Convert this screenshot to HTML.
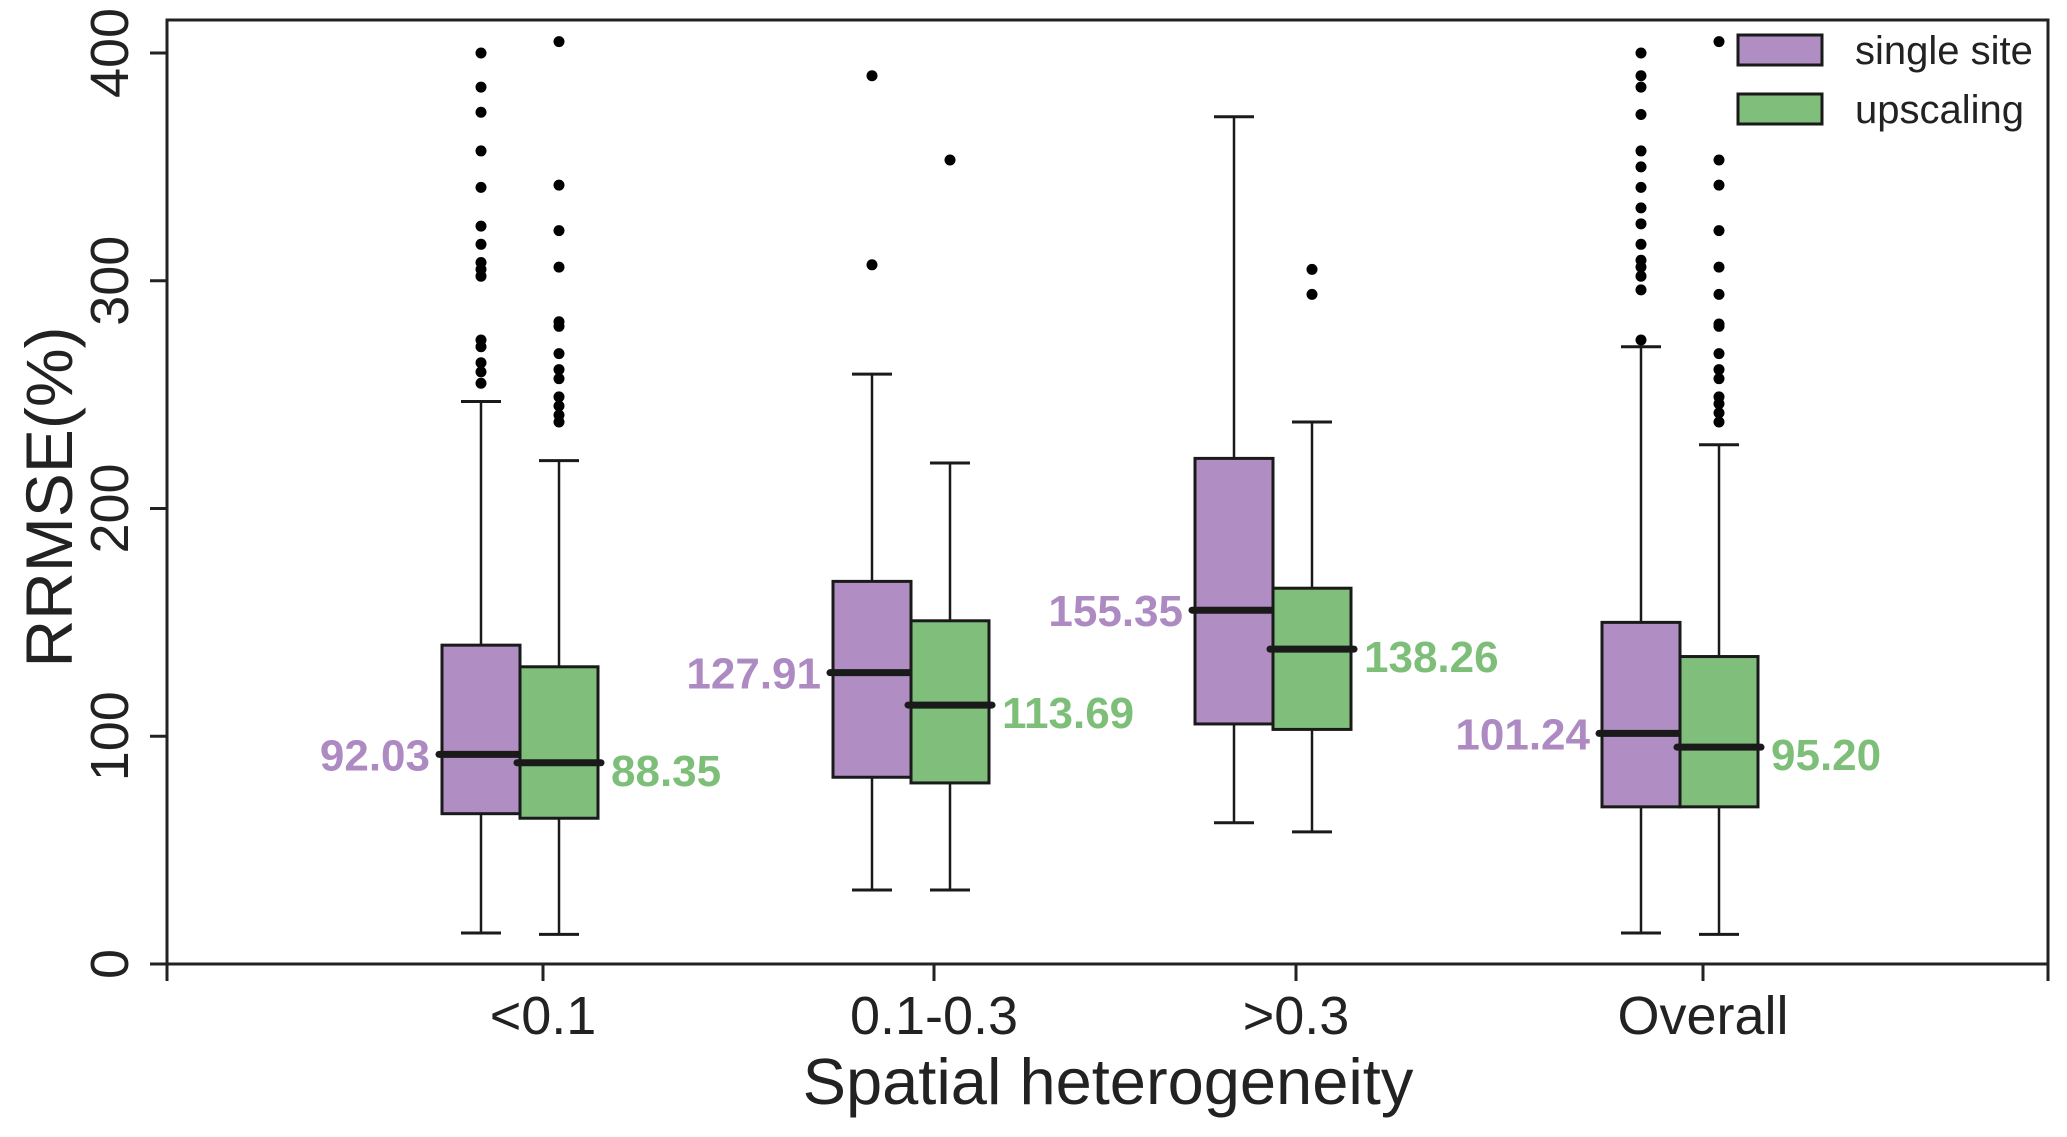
<!DOCTYPE html>
<html><head><meta charset="utf-8"><style>
html,body{margin:0;padding:0;background:#fff;}
svg{display:block;font-family:"Liberation Sans",Arial,sans-serif;}
</style></head><body>
<svg id="chart" width="2067" height="1137" viewBox="0 0 2067 1137" xmlns="http://www.w3.org/2000/svg"></svg>
<script>
const categories = ["<0.1", "0.1-0.3", ">0.3", "Overall"];
const seriesNames = ["single site", "upscaling"];
const singleLo = [13.6, 32.5, 62, 13.6];
const singleQ1 = [66, 82, 105.4, 69];
const singleMed = [92.03, 127.91, 155.35, 101.24];
const singleQ3 = [140, 168, 222, 150];
const singleHi = [247, 259, 372, 271];
const singleOut = [
  [400,385,374,357,341,324,316,308,305,302,274,271,264,260,255],
  [390,307],
  [],
  [400,390,385,373,357,350,341,332,325,316,309,306,302,296,274]
];
const upLo = [13, 32.5, 58, 13];
const upQ1 = [64, 79.5, 103, 69];
const upMed = [88.35, 113.69, 138.26, 95.20];
const upQ3 = [130.5, 150.7, 165, 135];
const upHi = [221, 220, 238, 228];
const upOut = [
  [405,342,322,306,282,280,268,261,257,249,245,241,238],
  [353],
  [305,294],
  [405,353,342,322,306,294,281,280,268,261,257,249,246,242,238]
];
const yTicks = [0, 100, 200, 300, 400];

const svg = document.getElementById('chart');
const NS = 'http://www.w3.org/2000/svg';
const L = 167, R = 2048, T = 20, B = 964;
const tickX = [543, 934, 1296, 1703];
function yS(v){ return B - v * (B - 53) / 400; }
function xCat(i){ return tickX[i]; }
const BW = 78, OFF = 23;
function mk(tag, attrs, parent){
  const e = document.createElementNS(NS, tag);
  for (const k in attrs) e.setAttribute(k, attrs[k]);
  (parent || svg).appendChild(e);
  return e;
}
const colors = ["#b08dc3", "#7fbf7b"];
const txtColors = ["#ae8ac3", "#7dbf79"];
const dark = "#1a1a1a";

const frame = mk('rect', {x:L, y:T, width:R-L, height:B-T, fill:'none', stroke:'#222', 'stroke-width':3});



yTicks.forEach(v => {
  const y = yS(v);
  const t = mk('line', {x1:L-17, x2:L, y1:y, y2:y, stroke:'#222', 'stroke-width':3});
  
  
  const lb = mk('text', {x:0, y:0, transform:`translate(128,${y}) rotate(-90)`, 'text-anchor':'middle', 'font-size':54, fill:'#222'});
  lb.textContent = v;
  
  
});
const yt = mk('text', {x:0, y:0, transform:'translate(72,497) rotate(-90)', 'text-anchor':'middle', 'font-size':66, fill:'#222'});
yt.textContent = 'RRMSE(%)';



[L, R].forEach(x => {
  const t = mk('line', {x1:x, x2:x, y1:B, y2:B+17, stroke:'#222', 'stroke-width':3});
  
  
});
categories.forEach((c, i) => {
  const x = xCat(i);
  const t = mk('line', {x1:x, x2:x, y1:B, y2:B+17, stroke:'#222', 'stroke-width':3});
  
  
  const lb = mk('text', {x:x, y:1034, 'text-anchor':'middle', 'font-size':54, fill:'#222'});
  lb.textContent = c;
  
  
});
const xt = mk('text', {x:1108, y:1104, 'text-anchor':'middle', 'font-size':65, fill:'#222'});
xt.textContent = 'Spatial heterogeneity';



const sets = [
  {lo:singleLo,q1:singleQ1,med:singleMed,q3:singleQ3,hi:singleHi,out:singleOut},
  {lo:upLo,q1:upQ1,med:upMed,q3:upQ3,hi:upHi,out:upOut}
];
sets.forEach((s, si) => {
  categories.forEach((c, i) => {
    const split = xCat(i) - OFF;
    const x0 = si === 0 ? split - BW : split;
    const cx = x0 + BW / 2;
    const lo = s.lo[i], q1 = s.q1[i], med = s.med[i], q3 = s.q3[i], hi = s.hi[i];
    const g = mk('g', {});
    
    
    mk('line', {x1:cx, x2:cx, y1:yS(hi), y2:yS(q3), stroke:dark, 'stroke-width':2.5}, g);
    mk('line', {x1:cx, x2:cx, y1:yS(q1), y2:yS(lo), stroke:dark, 'stroke-width':2.5}, g);
    mk('line', {x1:cx-20, x2:cx+20, y1:yS(hi), y2:yS(hi), stroke:dark, 'stroke-width':3}, g);
    mk('line', {x1:cx-20, x2:cx+20, y1:yS(lo), y2:yS(lo), stroke:dark, 'stroke-width':3}, g);
    mk('rect', {x:x0, y:yS(q3), width:BW, height:yS(q1)-yS(q3), fill:colors[si], stroke:dark, 'stroke-width':3}, g);
    mk('line', {x1:x0-3, x2:x0+BW+3, y1:yS(med), y2:yS(med), stroke:dark, 'stroke-width':7, 'stroke-linecap':'round'}, g);
    s.out[i].forEach(v => {
      const d = mk('circle', {cx:cx, cy:yS(v), r:5.5, fill:'#000'}, g);
      
      
    });
    const lbl = mk('text', {
      x: si === 0 ? x0 - 12 : x0 + BW + 13,
      y: yS(med) + (si === 0 ? 16 : 23),
      'text-anchor': si === 0 ? 'end' : 'start',
      'font-size':44, 'font-weight':'bold', fill:txtColors[si]
    });
    lbl.textContent = med.toFixed(2);
    
    
  });
});

seriesNames.forEach((n, i) => {
  const y = 35 + i * 59;
  const g = mk('g', {});
  
  
  mk('rect', {x:1738, y:y, width:84, height:30, fill:colors[i], stroke:dark, 'stroke-width':3}, g);
  const t = mk('text', {x:1855, y:y+29, 'font-size':40, fill:'#222'}, g);
  t.textContent = n;
});
</script>
</body></html>
